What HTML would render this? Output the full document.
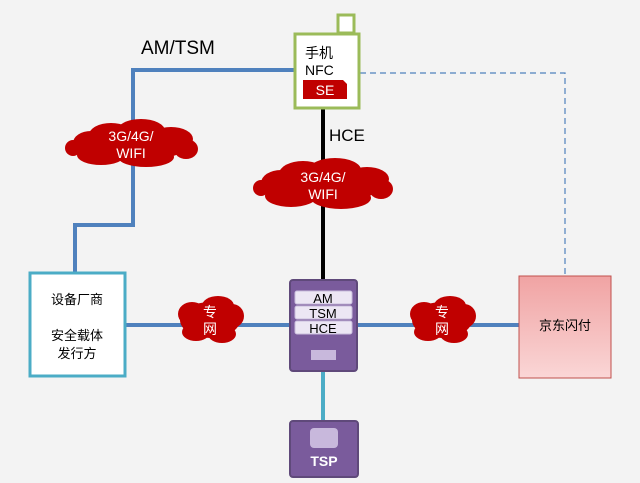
<!DOCTYPE html>
<html><head><meta charset="utf-8"><style>
html,body{margin:0;padding:0;background:#f3f3f3}
svg{display:block}
text{font-family:"Liberation Sans","Noto Sans CJK SC",sans-serif}
</style></head><body>
<svg width="640" height="483" viewBox="0 0 640 483" xmlns="http://www.w3.org/2000/svg">
<rect width="640" height="483" fill="#f3f3f3"/>
<!-- connectors -->
<polyline points="295,70 133,70 133,225 75,225 75,272" fill="none" stroke="#4f81bd" stroke-width="4"/>
<polyline points="360,73 565,73 565,276" fill="none" stroke="#4f81bd" stroke-width="1.2" stroke-dasharray="6,4"/>
<line x1="323" y1="108" x2="323" y2="281" stroke="#000" stroke-width="4"/>
<line x1="125" y1="325" x2="290" y2="325" stroke="#4f81bd" stroke-width="4"/>
<line x1="357" y1="325" x2="520" y2="325" stroke="#4f81bd" stroke-width="4"/>
<line x1="323" y1="371" x2="323" y2="421" stroke="#4bacc6" stroke-width="4"/>
<!-- clouds -->
<g fill="#c00000">
 <g transform="translate(131,145)">
  <ellipse cx="0" cy="0" rx="58" ry="16"/><ellipse cx="-40" cy="-2" rx="18" ry="12"/><ellipse cx="-20" cy="-10" rx="22" ry="12"/><ellipse cx="10" cy="-14" rx="24" ry="12"/><ellipse cx="40" cy="-6" rx="22" ry="12"/><ellipse cx="55" cy="4" rx="12" ry="10"/><ellipse cx="-30" cy="10" rx="24" ry="10"/><ellipse cx="15" cy="12" rx="28" ry="10"/><ellipse cx="-58" cy="3" rx="8" ry="8"/>
 </g>
 <g transform="translate(323,185)">
  <ellipse cx="0" cy="0" rx="60" ry="17"/><ellipse cx="-42" cy="-2" rx="20" ry="13"/><ellipse cx="-20" cy="-11" rx="24" ry="13"/><ellipse cx="12" cy="-15" rx="26" ry="12"/><ellipse cx="44" cy="-6" rx="22" ry="12"/><ellipse cx="58" cy="4" rx="12" ry="10"/><ellipse cx="-32" cy="11" rx="26" ry="11"/><ellipse cx="18" cy="13" rx="30" ry="11"/><ellipse cx="-62" cy="3" rx="8" ry="8"/>
 </g>
 <g transform="translate(210,320)">
  <ellipse cx="0" cy="0" rx="30" ry="18"/><ellipse cx="-18" cy="-6" rx="14" ry="12"/><ellipse cx="8" cy="-14" rx="16" ry="10"/><ellipse cx="22" cy="-4" rx="12" ry="12"/><ellipse cx="-14" cy="12" rx="14" ry="9"/><ellipse cx="12" cy="14" rx="14" ry="9"/>
 </g>
 <g transform="translate(442,320)">
  <ellipse cx="0" cy="0" rx="30" ry="18"/><ellipse cx="-18" cy="-6" rx="14" ry="12"/><ellipse cx="8" cy="-14" rx="16" ry="10"/><ellipse cx="22" cy="-4" rx="12" ry="12"/><ellipse cx="-14" cy="12" rx="14" ry="9"/><ellipse cx="12" cy="14" rx="14" ry="9"/>
 </g>
</g>
<g fill="#fff" font-size="14" text-anchor="middle">
 <text x="131" y="141">3G/4G/</text><text x="131" y="158">WIFI</text>
 <text x="323" y="182">3G/4G/</text><text x="323" y="199">WIFI</text>
 <text x="210" y="317">专</text><text x="210" y="334">网</text>
 <text x="442" y="317">专</text><text x="442" y="334">网</text>
</g>
<!-- labels -->
<text x="141" y="54" font-size="19" fill="#000">AM/TSM</text>
<text x="329" y="141" font-size="17" fill="#000">HCE</text>
<!-- phone -->
<rect x="338" y="15" width="16" height="18" fill="#fff" stroke="#9bbb59" stroke-width="3"/>
<rect x="295" y="34" width="64" height="74" fill="#fff" stroke="#9bbb59" stroke-width="3"/>
<text x="305" y="58" font-size="14" fill="#000">手机</text>
<text x="305" y="75" font-size="14" fill="#000">NFC</text>
<path d="M303,80 H343 L347,84 V99 H303 Z" fill="#c00000"/>
<text x="325" y="95" font-size="14" fill="#fff" text-anchor="middle">SE</text>
<!-- left box -->
<rect x="30" y="273" width="95" height="103" fill="#fff" stroke="#4bacc6" stroke-width="3"/>
<g font-size="13" text-anchor="middle" fill="#000">
 <text x="77" y="304">设备厂商</text><text x="77" y="340">安全载体</text><text x="77" y="358">发行方</text>
</g>
<!-- center box -->
<rect x="290" y="280" width="67" height="91" rx="3" fill="#7a5b9c" stroke="#5f497a" stroke-width="2"/>
<g fill="#ece6f4" stroke="#c9bcdd" stroke-width="1">
 <rect x="295" y="291" width="57" height="13" rx="2"/><rect x="295" y="306" width="57" height="13" rx="2"/><rect x="295" y="321" width="57" height="13" rx="2"/>
</g>
<g font-size="13" text-anchor="middle" fill="#000">
 <text x="323" y="303">AM</text><text x="323" y="318">TSM</text><text x="323" y="333">HCE</text>
</g>
<rect x="311" y="350" width="25" height="10" fill="#c8b8dc"/>
<!-- right box -->
<defs><linearGradient id="pk" x1="0" y1="0" x2="0" y2="1"><stop offset="0" stop-color="#f0a3a3"/><stop offset="1" stop-color="#fad6d6"/></linearGradient></defs>
<rect x="519" y="276" width="92" height="102" fill="url(#pk)" stroke="#c0504d" stroke-width="1"/>
<text x="565" y="330" font-size="13" text-anchor="middle" fill="#000">京东闪付</text>
<!-- TSP -->
<rect x="290" y="421" width="68" height="56" rx="3" fill="#7a5b9c" stroke="#5f497a" stroke-width="2"/>
<rect x="310" y="428" width="28" height="20" rx="4" fill="#c8b8dc"/>
<text x="324" y="466" font-size="14" font-weight="bold" fill="#fff" text-anchor="middle">TSP</text>
</svg>
</body></html>
